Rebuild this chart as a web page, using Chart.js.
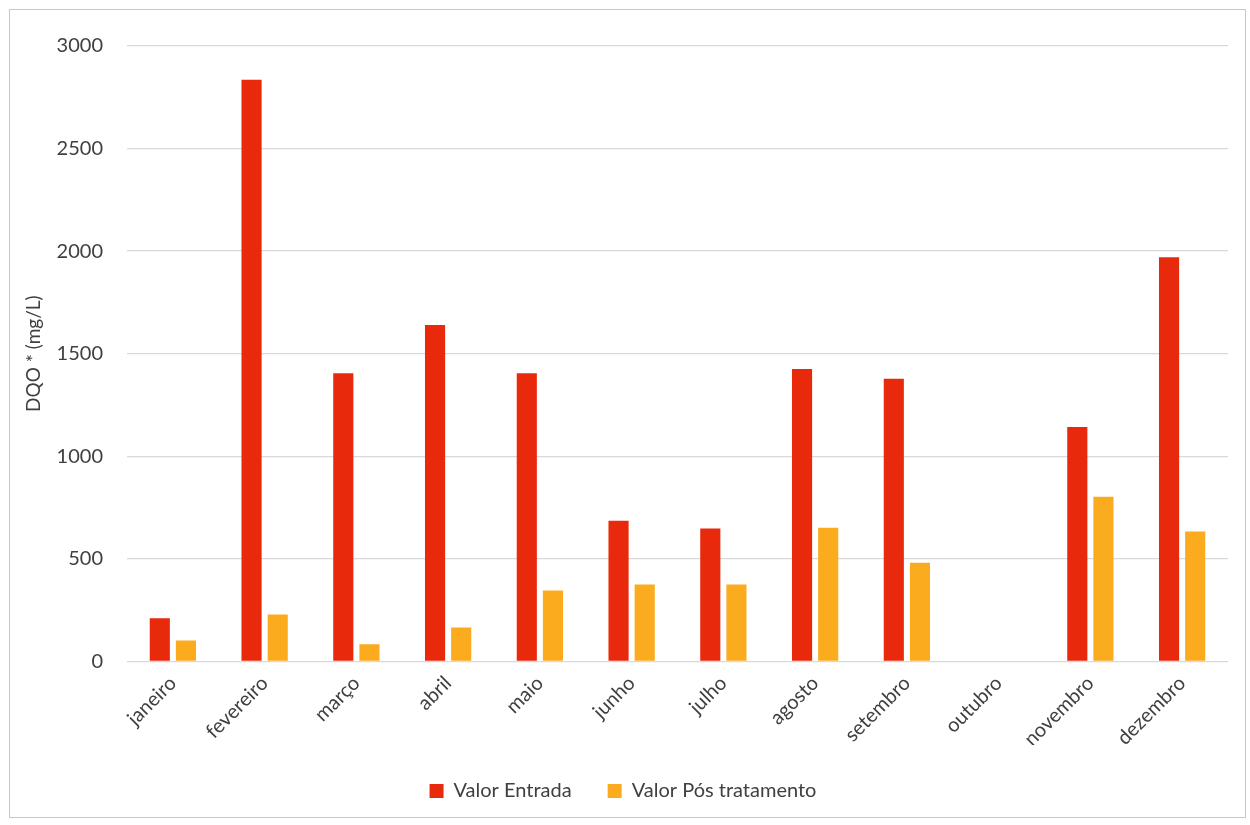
<!DOCTYPE html>
<html>
<head>
<meta charset="utf-8">
<script src="https://cdn.jsdelivr.net/npm/chart.js@4/dist/chart.umd.min.js"></script>
<style>
    html, body { margin: 0; padding: 0; background: #fff; }
    .frame {
        position: absolute;
        left: 9px; top: 9px;
        width: 1237px; height: 809px;
        border: 1px solid #c8c8c8;
        box-sizing: border-box;
        background: #fff;
    }
    .frame canvas { display: block; }
</style>
</head>
<body>
<div class="frame">
    <canvas id="dqoChart" width="1235" height="807"></canvas>
</div>
<script>
// ── Dados ──────────────────────────────────────────
const months = [
    'janeiro', 'fevereiro', 'março', 'abril', 'maio', 'junho',
    'julho', 'agosto', 'setembro', 'outubro', 'novembro', 'dezembro'
];
const entrada = [210, 2835, 1405, 1640, 1405, 685, 648, 1425, 1378, null, 1142, 1970];
const posTratamento = [102, 228, 83, 165, 345, 374, 374, 651, 481, null, 802, 633];
const yTicks = [0, 500, 1000, 1500, 2000, 2500, 3000];

const FONT = "Lato, 'Open Sans', sans-serif";
const TEXT = '#404040';
Chart.defaults.font.family = FONT;
Chart.defaults.color = TEXT;

new Chart(document.getElementById('dqoChart'), {
    type: 'bar',
    data: {
        labels: months,
        datasets: [
            {
                label: 'Valor Entrada',
                data: entrada,
                backgroundColor: '#e8290b',
                categoryPercentage: 0.57,
                barPercentage: 0.77,
            },
            {
                label: 'Valor Pós tratamento',
                data: posTratamento,
                backgroundColor: '#fbab1e',
                categoryPercentage: 0.57,
                barPercentage: 0.77,
            }
        ]
    },
    options: {
        responsive: false,
        animation: false,
        layout: { padding: { left: 8, right: 17, top: 26, bottom: 6 } },
        plugins: {
            legend: {
                position: 'bottom',
                labels: {
                    boxWidth: 14,
                    boxHeight: 14,
                    padding: 36,
                    color: TEXT,
                    font: { size: 20 }
                }
            },
            tooltip: { enabled: false }
        },
        scales: {
            x: {
                grid: { display: false },
                border: { display: false },
                // a slightly shorter band for the rotated month names
                afterFit: axis => { axis.height -= 8; },
                ticks: {
                    minRotation: 45,
                    maxRotation: 45,
                    font: { size: 20 },
                    color: TEXT,
                    padding: 2
                }
            },
            y: {
                min: 0,
                max: 3000,
                afterBuildTicks: axis => { axis.ticks = yTicks.map(v => ({ value: v })); },
                afterFit: axis => { axis.width = 109; },
                grid: { color: '#d9d9d9', lineWidth: 1.3, drawTicks: false },
                border: { display: false },
                ticks: {
                    font: { size: 20 },
                    color: TEXT,
                    padding: 24,
                    callback: v => String(v)
                },
                title: {
                    display: true,
                    text: 'DQO * (mg/L)',
                    font: { size: 19 },
                    color: TEXT,
                    padding: { top: 4, bottom: 12 }
                }
            }
        }
    }
});
</script>
</body>
</html>
